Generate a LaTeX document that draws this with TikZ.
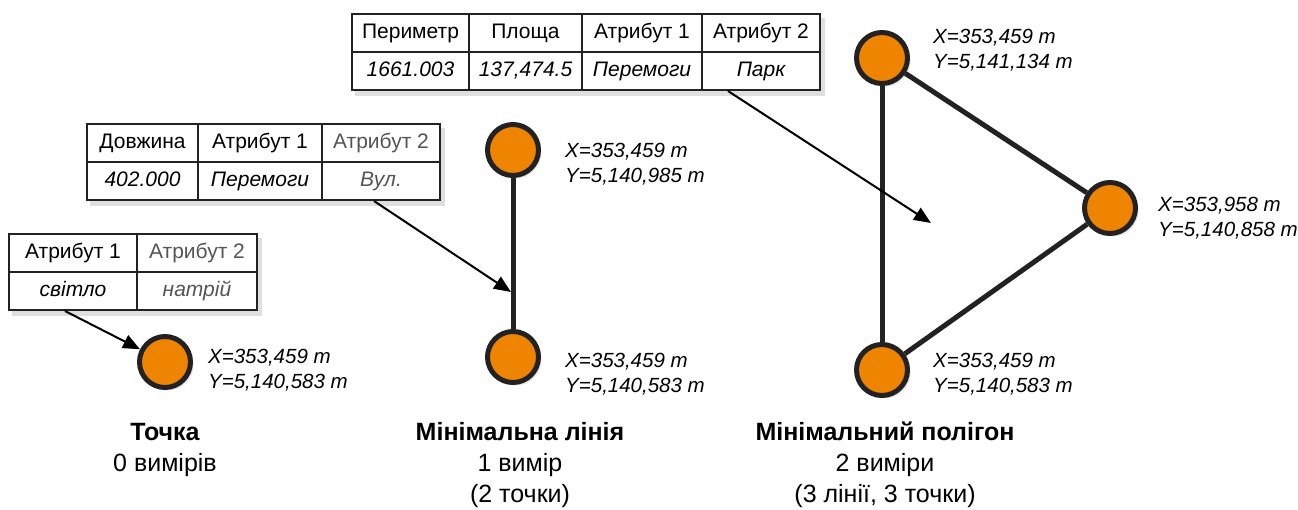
\documentclass[tikz,border=0pt]{standalone}
\usepackage{fontspec}
\setmainfont{Liberation Sans}
\usetikzlibrary{arrows.meta}
\usetikzlibrary{shadows}
\usetikzlibrary{backgrounds}

\definecolor{vertexfill}{HTML}{EE8400}
\definecolor{edgecol}{HTML}{222222}
\definecolor{dimtext}{HTML}{555555}

\begin{document}
\begin{tikzpicture}[x=1pt,y=-1pt,
	every node/.style={font=\fontsize{21}{23}\selectfont},
	vertex/.style={circle,draw=edgecol,line width=5pt,fill=vertexfill,minimum size=51pt,inner sep=0pt,
		drop shadow={shadow xshift=3pt,shadow yshift=-3pt,opacity=0.2}},
	cell/.style={draw=edgecol,line width=2pt,minimum height=38pt,inner sep=0pt,text height=15pt,text depth=4pt},
	val/.style={cell,font=\fontsize{21}{23}\selectfont\itshape},
	dim/.style={text=dimtext},
	coordtext/.style={anchor=west,align=left,inner sep=0pt,font=\fontsize{20.5}{25}\selectfont\itshape},
	caption/.style={align=center,font=\fontsize{25}{31}\selectfont},
	edge/.style={draw=edgecol,line width=5pt},
	pointer/.style={line width=2pt,-{Triangle[length=17pt,width=14pt]}},
	tabshadow/.style={drop shadow={shadow xshift=4pt,shadow yshift=-5pt,opacity=0.25}}]
	\useasboundingbox (0,0) rectangle (1298,509);

	% tochka
	\node[cell,minimum width=128pt] (ph1) at (73,253) {Атрибут 1};
	\node[cell,dim,minimum width=120pt] (ph2) at (197,253) {Атрибут 2};
	\node[val,minimum width=128pt] (pv1) at (73,291) {світло};
	\node[val,dim,minimum width=120pt] (pv2) at (197,291) {натрій};
	\begin{scope}[on background layer]
		\fill[white,tabshadow] (ph1.north west) rectangle (pv2.south east);
	\end{scope}
	\node[vertex] (pa) at (165,362) {};
	\node[coordtext] (pal) at (208,370) {X=353,459 m\\Y=5,140,583 m};
	\draw[pointer] ([xshift=-8pt]pv1.south) -- (pa);
	\node[caption] (pcap) at (165,450) {\textbf{Точка}\\0 вимірів};

	% liniia
	\node[cell,minimum width=111pt] (lh1) at (142.5,143) {Довжина};
	\node[cell,minimum width=124pt] (lh2) at (260,143) {Атрибут 1};
	\node[cell,dim,minimum width=118pt] (lh3) at (381,143) {Атрибут 2};
	\node[val,minimum width=111pt] (lv1) at (142.5,181) {402.000};
	\node[val,minimum width=124pt] (lv2) at (260,181) {Перемоги};
	\node[val,dim,minimum width=118pt] (lv3) at (381,181) {Вул.};
	\begin{scope}[on background layer]
		\fill[white,tabshadow] (lh1.north west) rectangle (lv3.south east);
	\end{scope}
	\node[vertex] (la) at (513,150) {};
	\node[vertex] (lb) at (513,357) {};
	\draw[edge] (la) -- (lb);
	\coordinate (lhit) at (511,292);
	\draw[pointer] ([xshift=-7pt]lv3.south) -- (lhit);
	\node[coordtext] (lal) at (565,164) {X=353,459 m\\Y=5,140,985 m};
	\node[coordtext] (lbl) at (565,374) {X=353,459 m\\Y=5,140,583 m};
	\node[caption] (lcap) at (520,465) {\textbf{Мінімальна лінія}\\1 вимір\\(2 точки)};

	% poligon
	\node[cell,minimum width=117pt] (gh1) at (410.5,33) {Периметр};
	\node[cell,minimum width=113pt] (gh2) at (525.5,33) {Площа};
	\node[cell,minimum width=120pt] (gh3) at (642,33) {Атрибут 1};
	\node[cell,minimum width=118pt] (gh4) at (761,33) {Атрибут 2};
	\node[val,minimum width=117pt] (gv1) at (410.5,71) {1661.003};
	\node[val,minimum width=113pt] (gv2) at (525.5,71) {137,474.5};
	\node[val,minimum width=120pt] (gv3) at (642,71) {Перемоги};
	\node[val,minimum width=118pt] (gv4) at (761,71) {Парк};
	\begin{scope}[on background layer]
		\fill[white,tabshadow] (gh1.north west) rectangle (gv4.south east);
	\end{scope}
	\node[vertex] (ga) at (882,58) {};
	\node[vertex] (gb) at (1110,208) {};
	\node[vertex] (gc) at (882,370) {};
	\draw[edge] (ga) -- (gb);
	\draw[edge] (gb) -- (gc);
	\draw[edge] (gc) -- (ga);
	\coordinate (ghit) at (931,223);
	\draw[pointer] ([xshift=-33pt]gv4.south) -- (ghit);
	\node[coordtext] (gal) at (933,50) {X=353,459 m\\Y=5,141,134 m};
	\node[coordtext] (gbl) at (1158,218) {X=353,958 m\\Y=5,140,858 m};
	\node[coordtext] (gcl) at (933,374) {X=353,459 m\\Y=5,140,583 m};
	\node[caption] (gcap) at (885,465) {\textbf{Мінімальний полігон}\\2 виміри\\(3 лінії, 3 точки)};
\end{tikzpicture}
\end{document}
